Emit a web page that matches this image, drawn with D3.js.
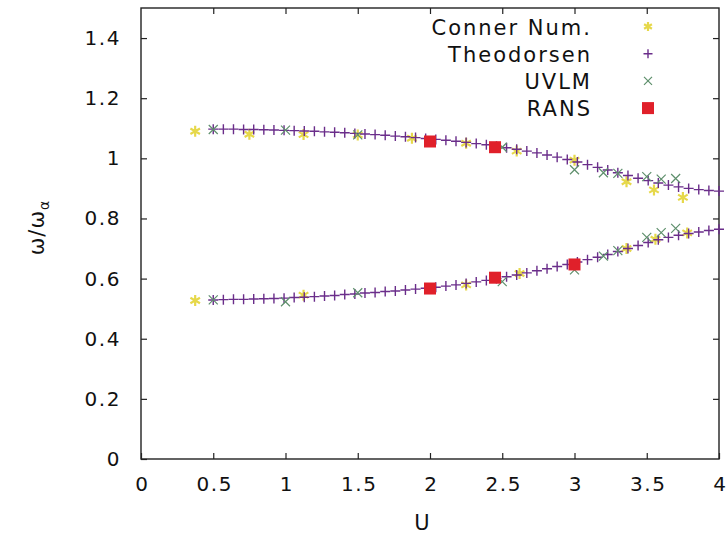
<!DOCTYPE html>
<html>
<head>
<meta charset="utf-8">
<script src="https://cdn.jsdelivr.net/npm/d3@7"></script>
<style>
  body { margin: 0; background: #fff; }
  svg { display: block; font-family: "DejaVu Sans", Verdana, sans-serif; }
</style>
</head>
<body>
<svg id="chart" width="727" height="538"></svg>
<script>
// Theodorsen (dense "+" curve), upper and lower branches
var theoU = [0.50, 0.57, 0.64, 0.71, 0.78, 0.85, 0.92, 0.99, 1.06, 1.13,
             1.20, 1.27, 1.34, 1.41, 1.48, 1.55, 1.62, 1.69, 1.76, 1.83,
             1.90, 1.97, 2.04, 2.11, 2.18, 2.25, 2.32, 2.39, 2.46, 2.53,
             2.60, 2.67, 2.74, 2.81, 2.88, 2.95, 3.02, 3.09, 3.16, 3.23,
             3.30, 3.37, 3.44, 3.51, 3.58, 3.65, 3.72, 3.79, 3.86, 3.93, 4.00];
var theoUpper = [1.097, 1.097, 1.097, 1.096, 1.096, 1.095, 1.094, 1.093, 1.092, 1.091,
                 1.090, 1.088, 1.087, 1.085, 1.083, 1.081, 1.079, 1.077, 1.074, 1.072,
                 1.069, 1.066, 1.063, 1.060, 1.057, 1.053, 1.049, 1.045, 1.040, 1.035,
                 1.030, 1.024, 1.018, 1.011, 1.004, 0.996, 0.988, 0.979, 0.970, 0.961,
                 0.952, 0.943, 0.934, 0.926, 0.918, 0.911, 0.905, 0.900, 0.896, 0.893, 0.891];
var theoLower = [0.529, 0.530, 0.531, 0.531, 0.532, 0.533, 0.534, 0.535, 0.537, 0.538,
                 0.540, 0.542, 0.544, 0.547, 0.549, 0.552, 0.554, 0.557, 0.559, 0.562,
                 0.565, 0.568, 0.571, 0.575, 0.579, 0.584, 0.589, 0.594, 0.600, 0.606,
                 0.612, 0.619, 0.626, 0.633, 0.640, 0.647, 0.655, 0.663, 0.671, 0.680,
                 0.690, 0.700, 0.710, 0.720, 0.729, 0.737, 0.744, 0.750, 0.755, 0.760, 0.764];

// Conner numerical (yellow asterisks)
var connerUpU = [0.375, 0.75, 1.125, 1.5, 1.875, 2.25, 2.6, 3.0, 3.36, 3.55, 3.75];
var connerUp  = [1.090, 1.080, 1.079, 1.078, 1.067, 1.050, 1.024, 0.994, 0.922, 0.895, 0.870];
var connerLoU = [0.375, 1.125, 2.25, 2.62, 3.0, 3.36, 3.56, 3.78];
var connerLo  = [0.527, 0.545, 0.579, 0.617, 0.645, 0.700, 0.731, 0.752];

// UVLM (crosses)
var uvlmUpU = [0.5, 1.0, 1.5, 2.5, 3.0, 3.2, 3.3, 3.5, 3.6, 3.7];
var uvlmUp  = [1.096, 1.094, 1.078, 1.037, 0.962, 0.952, 0.950, 0.939, 0.931, 0.933];
var uvlmLoU = [0.5, 1.0, 1.5, 2.5, 3.0, 3.2, 3.3, 3.5, 3.6, 3.7];
var uvlmLo  = [0.529, 0.523, 0.553, 0.590, 0.629, 0.675, 0.693, 0.737, 0.753, 0.767];

// RANS (red squares)
var ransU = [2.0, 2.45, 2.0, 2.45, 3.0];
var ransW = [1.056, 1.037, 0.567, 0.603, 0.647];

var xTicks = [0, 0.5, 1, 1.5, 2, 2.5, 3, 3.5, 4];
var yTicks = [0, 0.2, 0.4, 0.6, 0.8, 1, 1.2, 1.4];

var legendNames = ["Conner Num.", "Theodorsen", "UVLM", "RANS"];

var margin = {top: 8, right: 8, bottom: 79, left: 141},
    width = 727 - margin.left - margin.right,
    height = 538 - margin.top - margin.bottom;

var colors = {conner: "#e6d84a", theo: "#6a2d8a", uvlm: "#5e8f6c", rans: "#e0202a"};

var x = d3.scaleLinear().domain([0, 4]).range([0, width]);
var y = d3.scaleLinear().domain([0, 1.5]).range([height, 0]);

var svg = d3.select("#chart")
    .append("g")
    .attr("transform", "translate(" + margin.left + "," + margin.top + ")");

// frame
svg.append("rect")
    .attr("width", width).attr("height", height)
    .attr("fill", "none").attr("stroke", "#222").attr("stroke-width", 1.4);

// axes with inward ticks, mirrored on top and right
function styleAxis(g) {
    g.select(".domain").remove();
    g.selectAll(".tick line").attr("stroke", "#222").attr("stroke-width", 1.2);
    g.selectAll(".tick text").attr("fill", "#111").attr("font-size", 20)
        .attr("letter-spacing", 1.6)
        .attr("font-family", "DejaVu Sans, Verdana, sans-serif");
}

svg.append("g")
    .attr("transform", "translate(0," + height + ")")
    .call(d3.axisBottom(x).tickValues(xTicks).tickSizeInner(-6).tickSizeOuter(0).tickPadding(18)
        .tickFormat(function(d) { return String(d); }))
    .call(styleAxis)
    .selectAll(".tick text").attr("dx", 1);
svg.append("g")
    .call(d3.axisTop(x).tickValues(xTicks.slice(1, -1)).tickSizeInner(-6).tickSizeOuter(0)
        .tickFormat(""))
    .call(styleAxis);
svg.append("g")
    .call(d3.axisLeft(y).tickValues(yTicks).tickSizeInner(-6).tickSizeOuter(0).tickPadding(20)
        .tickFormat(function(d) { return String(d); }))
    .call(styleAxis);
svg.append("g")
    .attr("transform", "translate(" + width + ",0)")
    .call(d3.axisRight(y).tickValues(yTicks.slice(1)).tickSizeInner(-6).tickSizeOuter(0)
        .tickFormat(""))
    .call(styleAxis);

// axis titles
svg.append("text")
    .attr("x", width / 2 - 8).attr("y", height + 71)
    .attr("text-anchor", "middle").attr("font-size", 21).attr("fill", "#111")
    .text("U");

var yl = svg.append("text")
    .attr("transform", "translate(-97," + (height / 2 - 6) + ") rotate(-90)")
    .attr("text-anchor", "middle").attr("font-size", 21).attr("letter-spacing", 1).attr("fill", "#111");
yl.append("tspan").text("ω/ω");
yl.append("tspan").attr("font-size", 14).attr("dy", 5).text("α");

// marker paths
function plusPath(s) { return "M" + (-s) + ",0H" + s + "M0," + (-s) + "V" + s; }
function crossPath(s) { return "M" + (-s) + "," + (-s) + "L" + s + "," + s + "M" + (-s) + "," + s + "L" + s + "," + (-s); }
function starPath(s) {
    var a = s * 0.87, b = s * 0.5;
    return "M" + (-a) + "," + (-b) + "L" + a + "," + b + "M" + (-a) + "," + b + "L" + a + "," + (-b) +
        "M0," + (-s) + "V" + s;
}

function drawMarks(us, ws, path, color, sw) {
    svg.append("g").selectAll("path")
        .data(us.map(function(u, i) { return [u, ws[i]]; }))
        .enter().append("path")
        .attr("transform", function(d) { return "translate(" + x(d[0]) + "," + y(d[1]) + ")"; })
        .attr("d", path)
        .attr("fill", "none").attr("stroke", color).attr("stroke-width", sw);
}

drawMarks(connerUpU, connerUp, starPath(5.5), colors.conner, 2.2);
drawMarks(connerLoU, connerLo, starPath(5.5), colors.conner, 2.2);
drawMarks(theoU, theoUpper, plusPath(5), colors.theo, 1.4);
drawMarks(theoU, theoLower, plusPath(5), colors.theo, 1.4);
drawMarks(uvlmUpU, uvlmUp, crossPath(4.5), colors.uvlm, 1.2);
drawMarks(uvlmLoU, uvlmLo, crossPath(4.5), colors.uvlm, 1.2);

svg.append("g").selectAll("rect")
    .data(ransU.map(function(u, i) { return [u, ransW[i]]; }))
    .enter().append("rect")
    .attr("x", function(d) { return x(d[0]) - 6; })
    .attr("y", function(d) { return y(d[1]) - 6; })
    .attr("width", 12).attr("height", 12)
    .attr("fill", colors.rans);

// legend
var legendMarks = [
    {path: starPath(4.5), color: colors.conner, sw: 2.2},
    {path: plusPath(4.5), color: colors.theo, sw: 1.4},
    {path: crossPath(4), color: colors.uvlm, sw: 1.2},
    null
];
var legend = svg.append("g");
legendNames.forEach(function(name, i) {
    var cy = 18.5 + i * 27.2;
    legend.append("text")
        .attr("x", 451).attr("y", cy + 8)
        .attr("text-anchor", "end").attr("font-size", 21).attr("letter-spacing", 2)
        .attr("fill", "#111")
        .text(name);
    var m = legendMarks[i];
    if (m) {
        legend.append("path")
            .attr("transform", "translate(507," + cy + ")")
            .attr("d", m.path).attr("fill", "none")
            .attr("stroke", m.color).attr("stroke-width", m.sw);
    } else {
        legend.append("rect")
            .attr("x", 501).attr("y", cy - 6).attr("width", 12).attr("height", 12)
            .attr("fill", colors.rans);
    }
});
</script>
</body>
</html>
